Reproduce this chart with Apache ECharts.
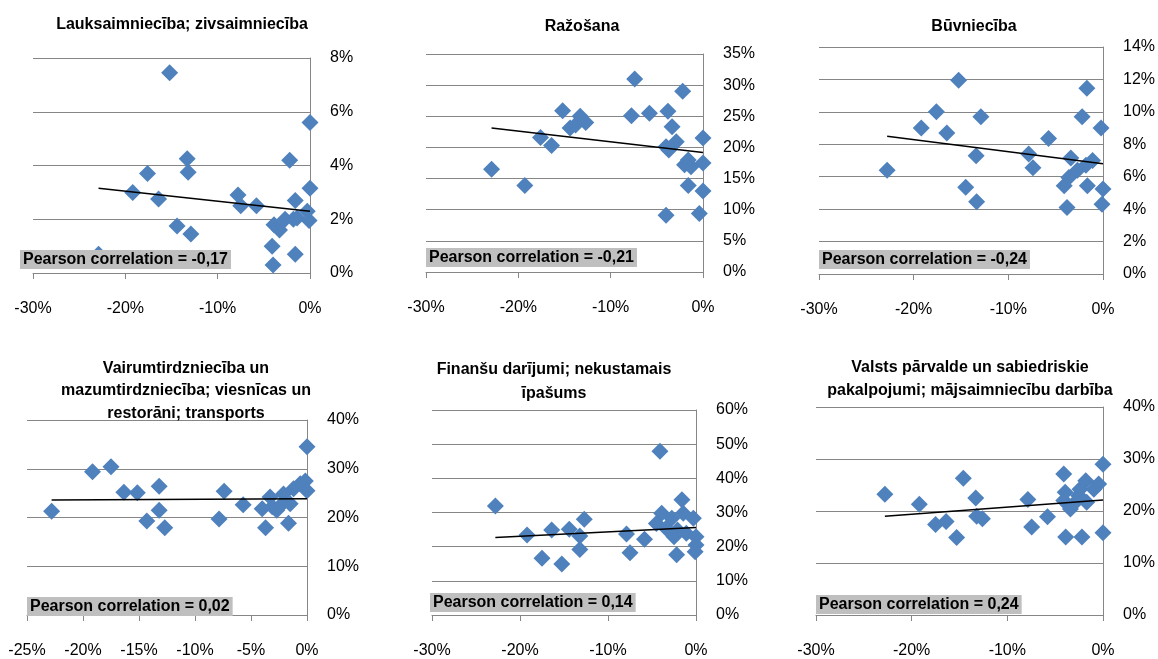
<!DOCTYPE html>
<html>
<head>
<meta charset="utf-8">
<script src="https://cdn.jsdelivr.net/npm/echarts@6/dist/echarts.min.js"></script>
<style>
html,body{margin:0;padding:0;background:#fff;}
#chart{width:1158px;height:659px;}
</style>
</head>
<body>
<div id="chart"></div>
<script>
// Panel titles
const panelTitles = [
  'Lauksaimniecība; zivsaimniecība',
  'Ražošana',
  'Būvniecība',
  'Vairumtirdzniecība un\nmazumtirdzniecība; viesnīcas un\nrestorāni; transports',
  'Finanšu darījumi; nekustamais\nīpašums',
  'Valsts pārvalde un sabiedriskie\npakalpojumi; mājsaimniecību darbība'
];
const pearsonLabels = ['-0,17', '-0,21', '-0,24', '0,02', '0,14', '0,24'];

// Axis ranges (percent)
const xMins = [-30, -30, -30, -25, -30, -30];
const xIntervals = [10, 10, 10, 5, 10, 10];
const yMaxs = [8, 35, 14, 40, 60, 40];
const yIntervals = [2, 5, 2, 10, 10, 10];

// Scatter data [x, y] in percent
const agriculture = [[-22.9,0.7],[-19.2,3.0],[-17.6,3.7],[-16.4,2.75],[-15.2,7.45],[-14.4,1.75],[-13.3,4.25],[-13.2,3.75],[-12.9,1.45],[-7.8,2.9],[-7.5,2.5],[-5.8,2.5],[-4.1,1.0],[-4.0,0.3],[-3.9,1.8],[-3.3,1.6],[-2.7,2.0],[-2.2,4.2],[-1.8,2.0],[-1.6,2.7],[-1.6,0.7],[-1.4,2.05],[-0.3,2.3],[-0.1,1.95],[0,3.15],[0,5.6]];
const manufacturing = [[-22.9,16.5],[-19.3,13.9],[-17.6,21.6],[-16.4,20.3],[-15.2,25.9],[-14.4,23.1],[-13.8,23.6],[-13.3,25.0],[-12.7,24.0],[-7.75,25.1],[-7.4,31.0],[-5.8,25.5],[-4.0,9.1],[-4.0,20.1],[-3.7,19.6],[-3.8,25.8],[-3.35,23.3],[-2.9,20.9],[-2.2,29.0],[-2.0,17.2],[-1.6,18.0],[-1.6,13.9],[-1.3,16.9],[-0.4,9.4],[0,21.5],[0,17.5],[0,13.0]];
const construction = [[-22.8,6.4],[-19.2,9.0],[-17.6,10.0],[-16.5,8.7],[-15.25,11.95],[-14.5,5.35],[-13.4,7.3],[-13.35,4.45],[-12.9,9.7],[-7.85,7.4],[-7.4,6.55],[-5.75,8.35],[-4.1,5.45],[-3.8,4.1],[-3.6,5.95],[-3.4,7.15],[-2.7,6.4],[-2.2,9.7],[-1.8,6.7],[-1.7,11.45],[-1.65,5.45],[-1.1,7.0],[-0.2,9.0],[0,5.25],[-0.1,4.3]];
const trade = [[-22.8,21.3],[-19.15,29.4],[-17.5,30.4],[-16.35,25.2],[-15.15,25.1],[-14.3,19.3],[-13.2,26.4],[-13.2,21.5],[-12.7,17.9],[-7.85,19.7],[-7.4,25.4],[-5.7,22.6],[-4.0,21.8],[-3.7,17.9],[-3.3,24.2],[-3.1,22.2],[-2.7,21.5],[-2.2,22.8],[-2.1,24.8],[-1.65,18.8],[-1.5,22.8],[-1.2,25.9],[-0.6,26.9],[-0.15,27.5],[0,25.5],[0,34.5]];
const finance = [[-22.8,31.9],[-19.2,23.4],[-17.5,16.6],[-16.4,24.9],[-15.25,14.9],[-14.4,25.1],[-13.2,23.1],[-13.2,19.2],[-12.7,28.0],[-7.9,23.7],[-7.5,18.2],[-5.85,22.2],[-4.5,26.8],[-4.1,47.9],[-3.9,29.8],[-3.4,25.4],[-2.75,28.3],[-2.5,22.9],[-2.2,17.6],[-2.1,24.9],[-1.6,33.7],[-1.45,29.8],[-1.1,23.9],[-0.3,28.3],[0,22.9],[0,20.5],[-0.1,18.5]];
const government = [[-22.8,23.2],[-19.2,21.3],[-17.5,17.4],[-16.4,18.0],[-15.3,14.9],[-14.6,26.3],[-13.3,22.5],[-13.2,19.0],[-12.6,18.5],[-7.85,22.2],[-7.45,16.9],[-5.8,18.9],[-4.1,27.1],[-4.1,22.0],[-3.95,23.6],[-3.9,15.0],[-3.4,20.4],[-3.05,21.4],[-2.55,23.0],[-2.4,24.2],[-2.2,15.0],[-1.8,25.8],[-1.7,21.7],[-0.95,24.2],[-0.45,25.2],[0,29.0],[0,15.8]];

// Linear trend lines (endpoints)
const agricultureTrend = [[-22.9,3.15],[0,2.3]];
const manufacturingTrend = [[-22.9,23.1],[0,19.2]];
const constructionTrend = [[-22.8,8.5],[0,6.8]];
const tradeTrend = [[-22.8,23.6],[0,23.85]];
const financeTrend = [[-22.8,22.7],[0,25.6]];
const governmentTrend = [[-22.8,19.0],[0,22.1]];

const scatterSets = [agriculture, manufacturing, construction, trade, finance, government];
const trendSets = [agricultureTrend, manufacturingTrend, constructionTrend, tradeTrend, financeTrend, governmentTrend];

// Layout
const grids = [
  {left:33, top:58, width:277, height:215},
  {left:426, top:54, width:277, height:218},
  {left:819, top:47, width:285, height:227},
  {left:27, top:420, width:280, height:198},
  {left:432, top:410, width:264, height:205},
  {left:816, top:407, width:288, height:210}
];
const titlePos = [
  {cx:182, top:15, lh:20},
  {cx:582, top:17, lh:20},
  {cx:974, top:17, lh:20},
  {cx:186, top:357, lh:22.5},
  {cx:554, top:358, lh:23.4},
  {cx:970, top:356, lh:23.3}
];
const boxPos = [
  {left:20, top:250},
  {left:426, top:248},
  {left:819, top:250},
  {left:27, top:597},
  {left:430, top:593},
  {left:816, top:595}
];

const FONT = 'Liberation Sans, Arial, sans-serif';
const GRID_COLOR = '#868686';

const option = {
  animation: false,
  backgroundColor: '#ffffff',
  title: [],
  grid: [],
  xAxis: [],
  yAxis: [],
  series: []
};

for (let i = 0; i < 6; i++) {
  option.grid.push(grids[i]);
  option.title.push({
    text: panelTitles[i],
    left: titlePos[i].cx,
    top: titlePos[i].top,
    textAlign: 'center',
    padding: 0,
    textStyle: {fontFamily: FONT, fontSize: 16, fontWeight: 'bold', color: '#000', lineHeight: titlePos[i].lh}
  });
  option.title.push({
    text: 'Pearson correlation = ' + pearsonLabels[i],
    left: boxPos[i].left,
    top: boxPos[i].top,
    padding: [1, 3, 1, 3],
    backgroundColor: '#bfbfbf',
    z: 10,
    textStyle: {fontFamily: FONT, fontSize: 16, fontWeight: 'bold', color: '#000', lineHeight: 17}
  });
  option.xAxis.push({
    type: 'value',
    gridIndex: i,
    min: xMins[i],
    max: 0,
    interval: xIntervals[i],
    axisLine: {show: true, onZero: false, lineStyle: {color: GRID_COLOR, width: 1}},
    axisTick: {show: true, length: 6, lineStyle: {color: GRID_COLOR}},
    axisLabel: {formatter: '{value}%', fontFamily: FONT, fontSize: 16, color: '#000', margin: 28},
    splitLine: {show: false}
  });
  option.yAxis.push({
    type: 'value',
    gridIndex: i,
    position: 'right',
    min: 0,
    max: yMaxs[i],
    interval: yIntervals[i],
    axisLine: {show: true, onZero: false, lineStyle: {color: GRID_COLOR, width: 1}},
    axisTick: {show: false},
    axisLabel: {formatter: '{value}%', fontFamily: FONT, fontSize: 16, color: '#000', margin: 20},
    splitLine: {show: true, lineStyle: {color: GRID_COLOR, width: 1}}
  });
  option.series.push({
    type: 'scatter',
    xAxisIndex: i,
    yAxisIndex: i,
    symbol: 'diamond',
    symbolSize: 17,
    itemStyle: {color: '#4F81BD', opacity: 1},
    z: 2,
    data: scatterSets[i]
  });
  option.series.push({
    type: 'line',
    xAxisIndex: i,
    yAxisIndex: i,
    symbol: 'none',
    lineStyle: {color: '#000', width: 1.5},
    z: 3,
    data: trendSets[i]
  });
}

const chart = echarts.init(document.getElementById('chart'), null, {renderer: 'canvas'});
chart.setOption(option);
</script>
</body>
</html>
